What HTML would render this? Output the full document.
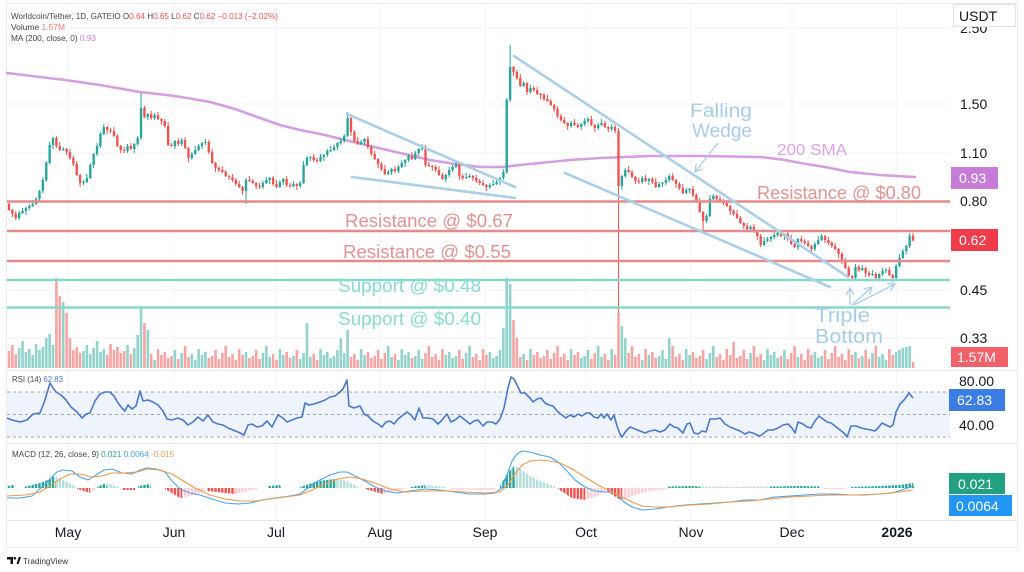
<!DOCTYPE html>
<html><head><meta charset="utf-8"><title>WLD/USDT</title>
<style>
html,body{margin:0;padding:0;background:#fff;width:1024px;height:572px;overflow:hidden}
svg{display:block}
text{font-family:"Liberation Sans","DejaVu Sans",sans-serif}
</style></head><body>
<svg width="1024" height="572" viewBox="0 0 1024 572" xmlns="http://www.w3.org/2000/svg">
<defs>
<marker id="ah" markerWidth="10" markerHeight="10" refX="8" refY="5" orient="auto" markerUnits="userSpaceOnUse">
<path d="M1,1 L8,5 L1,9" fill="none" stroke="#a9cde6" stroke-width="1.3"/>
</marker>
<pattern id="pG" patternUnits="userSpaceOnUse" x="7.8" y="0" width="3.386" height="600"><rect width="2.4" height="600" fill="#26a69a"/></pattern>
<pattern id="pLG" patternUnits="userSpaceOnUse" x="7.8" y="0" width="3.386" height="600"><rect width="2.4" height="600" fill="#b2dfdb"/></pattern>
<pattern id="pR" patternUnits="userSpaceOnUse" x="7.8" y="0" width="3.386" height="600"><rect width="2.4" height="600" fill="#ef5350"/></pattern>
<pattern id="pLR" patternUnits="userSpaceOnUse" x="7.8" y="0" width="3.386" height="600"><rect width="2.4" height="600" fill="#ffcdd2"/></pattern>
</defs>
<rect width="1024" height="572" fill="#fff"/>
<rect x="6.5" y="3.5" width="1011" height="544" fill="none" stroke="#ebebeb"/>
<g stroke="#f1f3f7" stroke-width="1">
<line x1="68" y1="4" x2="68" y2="520"/><line x1="174" y1="4" x2="174" y2="520"/><line x1="276" y1="4" x2="276" y2="520"/><line x1="380" y1="4" x2="380" y2="520"/><line x1="485" y1="4" x2="485" y2="520"/><line x1="586" y1="4" x2="586" y2="520"/><line x1="691" y1="4" x2="691" y2="520"/><line x1="792" y1="4" x2="792" y2="520"/><line x1="897" y1="4" x2="897" y2="520"/>
<line x1="7" y1="28" x2="950" y2="28"/><line x1="7" y1="104" x2="950" y2="104"/><line x1="7" y1="153" x2="950" y2="153"/><line x1="7" y1="290" x2="950" y2="290"/><line x1="7" y1="338" x2="950" y2="338"/>
</g>
<g stroke="#e6e6e6" stroke-width="1">
<line x1="7" y1="370.5" x2="1017" y2="370.5"/><line x1="7" y1="443.5" x2="1017" y2="443.5"/><line x1="7" y1="520.5" x2="1017" y2="520.5"/>
</g>
<rect x="7" y="392" width="943" height="45" fill="#eff4fc"/>
<g stroke="#9ea3ad" stroke-width="1" stroke-dasharray="3,3">
<line x1="7" y1="392" x2="950" y2="392"/><line x1="7" y1="414.5" x2="950" y2="414.5"/><line x1="7" y1="437" x2="950" y2="437"/>
</g>

<!-- volume + candles (x = candle index) -->
<g transform="translate(9,0) scale(3.386,1)" fill="none">
<path stroke="#f5a6a4" stroke-width="0.77" d="M0,368V351M1,368V345M2,368V354M14,368V278M15,368V296M17,368V313M18,368V338M19,368V350M20,368V347M21,368V353M29,368V355M30,368V344M31,368V350M32,368V347M33,368V353M34,368V351M36,368V354M40,368V323M42,368V354M44,368V349M45,368V355M46,368V352M47,368V358M48,368V356M50,368V359M52,368V346M53,368V357M59,368V358M60,368V356M61,368V350M62,368V359M63,368V353M64,368V346M65,368V357M66,368V354M67,368V360M68,368V349M69,368V355M71,368V358M72,368V356M73,368V350M74,368V359M78,368V354M79,368V360M82,368V352M83,368V358M85,368V350M90,368V354M91,368V360M101,368V357M102,368V354M103,368V360M106,368V352M107,368V358M108,368V356M109,368V350M110,368V359M111,368V353M114,368V354M119,368V358M123,368V353M124,368V346M125,368V357M126,368V354M127,368V360M128,368V349M133,368V350M134,368V359M137,368V357M138,368V354M139,368V360M140,368V349M141,368V355M149,368V320M150,368V338M151,368V357M153,368V360M155,368V355M156,368V352M157,368V358M158,368V356M159,368V350M160,368V359M161,368V353M162,368V346M163,368V357M164,368V354M165,368V360M167,368V355M168,368V352M172,368V359M173,368V353M176,368V354M177,368V360M179,368V355M180,368V313M183,368V353M184,368V346M185,368V357M186,368V354M188,368V349M190,368V352M191,368V358M196,368V346M197,368V357M198,368V354M199,368V360M202,368V352M203,368V358M204,368V356M205,368V350M209,368V357M210,368V354M211,368V360M212,368V349M213,368V355M214,368V342M215,368V358M216,368V356M217,368V350M218,368V359M220,368V346M221,368V357M222,368V354M228,368V356M230,368V359M231,368V353M232,368V346M234,368V354M235,368V360M236,368V349M237,368V355M241,368V350M242,368V359M243,368V353M244,368V346M245,368V357M246,368V354M247,368V360M248,368V349M249,368V355M251,368V358M253,368V350M254,368V359M256,368V346M260,368V349M261,368V355M267,368V362"/>
<path stroke="#92d3cb" stroke-width="0.77" d="M3,368V348M4,368V341M5,368V352M6,368V349M7,368V355M8,368V344M9,368V350M10,368V347M11,368V338M12,368V334M13,368V345M16,368V302M22,368V351M23,368V345M24,368V354M25,368V348M26,368V341M27,368V352M28,368V349M35,368V345M37,368V348M38,368V335M39,368V306M41,368V330M43,368V360M49,368V350M51,368V353M54,368V354M55,368V360M56,368V349M57,368V355M58,368V352M70,368V352M75,368V353M76,368V346M77,368V357M80,368V349M81,368V355M84,368V356M86,368V359M87,368V353M88,368V323M89,368V357M92,368V349M93,368V355M94,368V352M95,368V358M96,368V356M97,368V350M98,368V338M99,368V353M100,368V330M104,368V349M105,368V355M112,368V346M113,368V357M115,368V360M116,368V349M117,368V355M118,368V352M120,368V356M121,368V350M122,368V359M129,368V355M130,368V352M131,368V358M132,368V356M135,368V353M136,368V346M142,368V352M143,368V358M144,368V356M145,368V350M146,368V328M147,368V278M148,368V284M152,368V354M154,368V349M166,368V349M169,368V358M170,368V356M171,368V350M174,368V346M175,368V357M178,368V349M181,368V326M182,368V338M187,368V360M189,368V355M192,368V356M193,368V350M194,368V359M195,368V338M200,368V349M201,368V355M206,368V359M207,368V353M208,368V346M219,368V353M223,368V360M224,368V349M225,368V355M226,368V352M227,368V358M229,368V350M233,368V357M238,368V352M239,368V358M240,368V356M250,368V352M252,368V356M255,368V353M257,368V357M258,368V354M259,368V360M262,368V352M263,368V350M264,368V348M265,368V347M266,368V346"/>
</g>

<!-- MACD histogram -->
<g>
<polygon fill="url(#pG)" points="7,488 7,486 14,485 14,488"/>
<polygon fill="url(#pG)" points="24,488 24,487 40,483 50,479 55,476 56,488"/>
<polygon fill="url(#pLG)" points="56,488 56,476 65,481 76,487 77,488"/>
<polygon fill="url(#pR)" points="77,488 77,489 90,493 90,488"/>
<polygon fill="url(#pLR)" points="90,488 90,493 96,489 96,488"/>
<polygon fill="url(#pG)" points="97,488 97,487 106,483 107,488"/>
<polygon fill="url(#pLG)" points="107,488 107,483 118,487 119,488"/>
<polygon fill="url(#pR)" points="122,488 122,490 135,490 135,488"/>
<polygon fill="url(#pG)" points="138,488 138,486 150,484 151,488"/>
<polygon fill="url(#pR)" points="165,488 165,489 180,498 182,498 182,488"/>
<polygon fill="url(#pLR)" points="182,488 182,498 195,495 205,491 205,488"/>
<polygon fill="url(#pR)" points="207,488 207,491 235,494 235,488"/>
<polygon fill="url(#pLR)" points="235,488 235,494 258,489 258,488"/>
<polygon fill="url(#pG)" points="268,488 268,486 280,485 281,488"/>
<polygon fill="url(#pG)" points="300,488 300,487 318,481 335,479 336,488"/>
<polygon fill="url(#pLG)" points="336,488 336,479 347,481 358,487 359,488"/>
<polygon fill="url(#pR)" points="365,488 365,489 383,494 383,488"/>
<polygon fill="url(#pLR)" points="383,488 383,494 405,489 405,488"/>
<polygon fill="url(#pG)" points="410,488 410,487 425,485 426,488"/>
<polygon fill="url(#pLG)" points="426,488 426,485 445,487 446,488"/>
<polygon fill="url(#pLR)" points="450,488 450,489.5 495,490 495,488"/>
<polygon fill="url(#pG)" points="500,488 500,486 507,474 514,466 516,488"/>
<polygon fill="url(#pLG)" points="516,488 516,466 522,470 530,476 540,481 556,487 557,488"/>
<polygon fill="url(#pR)" points="558,488 558,489 572,498 585,500 585,488"/>
<polygon fill="url(#pLR)" points="585,488 585,500 596,497 605,491 606,488"/>
<polygon fill="url(#pR)" points="607,488 607,491 620,500 622,500 622,488"/>
<polygon fill="url(#pLR)" points="622,488 622,500 632,496 645,492 668,489 668,488"/>
<polygon fill="url(#pG)" points="668,488 668,486.5 690,486 700,486.5 700,488"/>
<polygon fill="url(#pLG)" points="700,488 700,486.5 730,487 760,486.5 770,487 770,488"/>
<polygon fill="url(#pG)" points="770,488 770,486.5 800,486 820,486.5 821,488"/>
<polygon fill="url(#pLR)" points="822,488 822,489 845,489 846,488"/>
<polygon fill="url(#pG)" points="850,488 850,487 880,486 900,485 913,483 914,488"/>
</g>

<!-- SMA 200 -->
<polyline fill="none" stroke="#d69ee2" stroke-width="2.6" stroke-linejoin="round" stroke-linecap="round" points="7,73 40,77 65,80 100,85 140,92 175,96 210,102 235,109 260,118 280,125 300,130 325,135 345,140 370,146 400,153 430,160 455,164 480,167 503,167 520,165 540,163 570,160 600,158 650,156 700,156 760,157 785,160 800,163 825,167 850,172 880,175 915,177"/>

<!-- candles -->
<g transform="translate(9,0) scale(3.386,1)" fill="none">
<path stroke="#ef5350" stroke-width="0.3" d="M0,202V211M1,209V217M2,211V220M14,136V148M15,142V151M17,148V155M18,149V160M19,156V166M20,161V176M21,174V187M29,126V134M30,128V133M31,127V137M32,134V147M33,145V153M34,147V153M36,143V150M40,106V118M42,111V120M44,112V120M45,118V125M46,119V128M47,122V146M48,143V147M50,138V146M52,137V149M53,147V162M59,140V154M60,149V164M61,162V172M62,166V172M63,166V173M64,170V177M65,175V180M66,174V182M67,178V186M68,181V188M69,186V195M71,176V182M72,179V184M73,182V189M74,183V189M78,176V186M79,180V188M82,176V187M83,183V188M85,183V190M90,154V162M91,158V163M101,117V136M102,130V143M103,137V145M106,136V149M107,145V156M108,151V160M109,158V168M110,162V171M111,165V175M114,166V173M119,152V160M123,145V167M124,162V167M125,165V171M126,165V172M127,166V176M128,173V180M133,163V180M134,174V180M137,175V181M138,175V183M139,179V185M140,180V186M141,184V191M149,66V76M150,70V80M151,74V87M153,82V95M155,86V92M156,87V95M157,93V99M158,93V101M159,95V102M160,99V106M161,104V112M162,106V118M163,114V122M164,117V124M165,122V130M167,119V126M168,123V128M172,116V126M173,124V132M176,121V128M177,126V132M179,125V133M180,128V313M183,166V173M184,170V178M185,176V184M186,178V184M188,175V182M190,177V184M191,178V188M196,173V181M197,179V188M198,182V190M199,184V194M202,186V197M203,193V203M204,198V213M205,211V233M209,195V202M210,196V203M211,199V205M212,200V207M213,205V215M214,209V216M215,210V219M216,216V224M217,222V229M218,223V231M220,224V233M221,231V240M222,234V247M228,230V237M230,232V241M231,235V245M232,242V248M234,236V243M235,239V245M236,240V247M237,245V253M241,235V243M242,237V245M243,241V248M244,243V250M245,248V258M246,252V264M247,258V269M248,266V277M249,275V281M251,265V272M253,267V277M254,271V277M256,272V279M260,267V276M261,274V282M267,233V241.5"/>
<path stroke="#26a69a" stroke-width="0.3" d="M3,211V220M4,208V214M5,207V215M6,204V210M7,200V207M8,197V205M9,190V202M10,177V193M11,161V182M12,142V164M13,137V149M16,147V151M22,180V185M23,174V183M24,163V179M25,153V168M26,143V156M27,132V148M28,124V135M35,144V153M37,143V153M38,136V146M39,93V140M41,113V120M43,113V120M49,140V149M51,138V146M54,152V160M55,146V155M56,144V151M57,142V149M58,139V145M70,178V204M75,181V189M76,177V184M77,177V184M80,180V188M81,178V185M84,181V187M86,181V188M87,161V184M88,156V166M89,156V161M92,154V162M93,154V161M94,149V157M95,146V152M96,145V151M97,142V150M98,138V145M99,134V143M100,112V137M104,140V145M105,138V145M112,170V175M113,168V175M115,165V173M116,160V168M117,159V167M118,154V162M120,151V160M121,148V156M122,144V151M129,174V182M130,167V177M131,165V172M132,161V168M135,173V179M136,174V178M142,183V189M143,180V186M144,180V185M145,177V185M146,169V180M147,98V174M148,45V102M152,81V87M154,85V94M166,121V128M169,123V130M170,118V126M171,117V123M174,123V130M175,119V126M178,124V131M181,175V190M182,168V178M187,176V184M189,178V185M192,182V188M193,182V187M194,177V185M195,174V182M200,188V194M201,188V193M206,214V223M207,195V217M208,194V200M219,225V231M223,237V246M224,237V242M225,236V242M226,232V239M227,231V237M229,233V240M233,238V250M238,242V251M239,236V245M240,234V241M250,264V280M252,265V271M255,270V276M257,273V281M258,268V276M259,268V273M262,264V280M263,254V267M264,249V259M265,245V254M266,233V248"/>
<path stroke="#ef5350" stroke-width="0.7" d="M0,204V210M1,210V214M2,214V218M14,138V146M15,146V150M17,149V152M18,152V158M19,158V164M20,164V175M21,175V183M29,127V130M30,130V131M31,131V136M32,136V146M33,146V150M34,150V151M36,146V149M40,108V117M42,114V118M44,115V119M45,119V121M46,121V126M47,126V145M48,145V146M50,141V144M52,140V148M53,148V158M59,142V152M60,152V163M61,163V168M62,168V170M63,170V172M64,172V176M65,176V177M66,177V180M67,180V184M68,184V187M69,187V191M71,180V181M72,181V183M73,183V186M74,186V187M78,178V184M79,184V187M82,179V185M83,185V186M85,184V186M90,157V160M91,160V161M101,118V132M102,132V141M103,141V144M106,139V147M107,147V154M108,154V159M109,159V164M110,164V169M111,169V174M114,169V171M119,156V159M123,147V165M124,165V166M125,166V167M126,167V170M127,170V175M128,175V179M133,164V176M134,176V178M137,176V178M138,178V181M139,181V183M140,183V185M141,185V187M149,67V72M150,72V78M151,78V86M153,83V92M155,88V90M156,90V94M157,94V95M158,95V99M159,99V101M160,101V105M161,105V109M162,109V116M163,116V120M164,120V123M165,123V126M167,123V125M168,125V127M172,119V125M173,125V128M176,123V127M177,127V129M179,127V131M180,131V186M183,170V172M184,172V177M185,177V181M186,181V182M188,178V181M190,179V182M191,182V187M196,176V180M197,180V184M198,184V188M199,188V193M202,189V195M203,195V201M204,201V212M205,212V221M209,196V199M210,199V201M211,201V203M212,203V206M213,206V211M214,211V214M215,214V218M216,218V223M217,223V226M218,226V229M220,227V232M221,232V236M222,236V245M228,233V236M230,234V239M231,239V244M232,244V247M234,239V241M235,241V243M236,243V246M237,246V249M241,236V240M242,240V243M243,243V246M244,246V249M245,249V254M246,254V262M247,262V268M248,268V276M249,276V278M251,267V270M253,268V273M254,273V275M256,274V278M260,270V275M261,275V278M267,235.6V240.5"/>
<path stroke="#26a69a" stroke-width="0.7" d="M3,213V218M4,211V213M5,208V211M6,206V208M7,204V206M8,199V204M9,191V199M10,180V191M11,163V180M12,145V163M13,138V145M16,149V150M22,182V183M23,178V182M24,165V178M25,154V165M26,146V154M27,134V146M28,127V134M35,146V151M37,144V149M38,138V144M39,108V138M41,114V117M43,115V118M49,141V146M51,140V144M54,154V158M55,150V154M56,146V150M57,143V146M58,142V143M70,180V191M75,183V187M76,180V183M77,178V180M80,182V187M81,179V182M84,184V186M86,183V186M87,165V183M88,158V165M89,157V158M92,157V161M93,155V157M94,151V155M95,150V151M96,147V150M97,143V147M98,141V143M99,136V141M100,118V136M104,142V144M105,139V142M112,172V174M113,169V172M115,167V171M116,163V167M117,160V163M118,156V160M120,153V159M121,149V153M122,147V149M129,175V179M130,170V175M131,167V170M132,164V167M135,177V178M136,176V177M142,185V187M143,184V185M144,182V184M145,178V182M146,172V178M147,100V172M148,67V100M152,83V86M154,88V92M166,123V126M169,124V127M170,121V124M171,119V121M174,125V128M175,123V125M178,127V129M181,176V186M182,170V176M187,178V182M189,179V181M192,184V187M193,183V184M194,180V183M195,176V180M200,190V193M201,189V190M206,216V221M207,199V216M208,196V199M219,227V229M223,241V245M224,239V241M225,237V239M226,235V237M227,233V235M229,234V236M233,239V247M238,244V249M239,240V244M240,236V240M250,267V278M252,268V270M255,274V275M257,274V278M258,271V274M259,270V271M262,266V278M263,258V266M264,251V258M265,246V251M266,236V246"/>
</g>

<!-- horizontal levels -->
<g stroke-width="2.6">
<line x1="7" y1="201.5" x2="950" y2="201.5" stroke="#e58a8a"/>
<line x1="7" y1="231" x2="950" y2="231" stroke="#e58a8a"/>
<line x1="7" y1="261" x2="950" y2="261" stroke="#e58a8a"/>
<line x1="7" y1="280" x2="950" y2="280" stroke="#86d9c9"/>
<line x1="7" y1="307.5" x2="950" y2="307.5" stroke="#86d9c9"/>
</g>

<!-- wedges -->
<g stroke="#abcfe7" stroke-width="2.6" stroke-linecap="round">
<line x1="347" y1="114" x2="515" y2="187"/>
<line x1="352" y1="177" x2="515" y2="198"/>
<line x1="514" y1="56" x2="848" y2="277"/>
<line x1="565" y1="173" x2="830" y2="287"/>
</g>
<g stroke="#a9cde6" stroke-width="1.3" fill="none">
<line x1="718" y1="143" x2="695" y2="172" marker-end="url(#ah)"/>
<line x1="850" y1="305" x2="850" y2="288" marker-end="url(#ah)"/>
<line x1="852" y1="305" x2="872" y2="287" marker-end="url(#ah)"/>
<line x1="854" y1="305" x2="895" y2="284" marker-end="url(#ah)"/>
</g>

<!-- annotations -->
<g font-size="19">
<text x="690" y="117" fill="#a9cde8" textLength="62" lengthAdjust="spacingAndGlyphs">Falling</text>
<text x="692" y="137" fill="#a9cde8" textLength="60" lengthAdjust="spacingAndGlyphs">Wedge</text>
<text x="777" y="155" fill="#dba3e5" font-size="16" textLength="70" lengthAdjust="spacingAndGlyphs">200 SMA</text>
<text x="757" y="199" fill="#e39292" font-size="18" textLength="164" lengthAdjust="spacingAndGlyphs">Resistance @ $0.80</text>
<text x="345" y="227" fill="#e39292" font-size="18" textLength="168" lengthAdjust="spacingAndGlyphs">Resistance @ $0.67</text>
<text x="343" y="258" fill="#e39292" font-size="18" textLength="168" lengthAdjust="spacingAndGlyphs">Resistance @ $0.55</text>
<text x="338" y="292" fill="#88dccb" font-size="18" textLength="143" lengthAdjust="spacingAndGlyphs">Support @ $0.48</text>
<text x="338" y="325" fill="#88dccb" font-size="18" textLength="143" lengthAdjust="spacingAndGlyphs">Support @ $0.40</text>
<text x="815" y="322" fill="#a9cde8" font-size="20" textLength="55" lengthAdjust="spacingAndGlyphs">Triple</text>
<text x="815" y="343" fill="#a9cde8" font-size="20" textLength="68" lengthAdjust="spacingAndGlyphs">Bottom</text>
</g>

<!-- RSI line -->
<polyline fill="none" stroke="#4a78d0" stroke-width="1.6" stroke-linejoin="round" points="7,418 12,420 20,422 27,420 33,414 40,413 45,400 50,383 53,388 56,392 61,395 66,400 71,407 77,412 82,418 86,414 90,413 95,401 100,394 105,392 110,392 114,396 118,403 122,408 125,411 128,405 132,409 136,406 140,391 143,401 148,400 153,402 158,405 163,411 167,419 172,420 178,418 183,420 188,425 193,422 198,417 203,421 208,415 213,422 218,424 223,425 228,428 233,430 238,432 244,435 248,425 252,424 257,427 262,426 267,421 272,427 278,415 283,418 287,422 292,420 297,418 302,417 305,403 309,405 314,404 320,402 325,400 330,397 335,396 340,392 343,389 347,380 349,406 354,408 360,406 364,414 368,416 373,421 378,424 382,427 386,422 390,421 394,424 398,419 403,415 407,412 411,415 415,420 419,408 423,418 428,418 433,419 438,424 442,420 447,414 451,422 455,420 460,416 465,420 470,424 474,421 478,420 483,426 487,422 492,422 496,424 500,419 504,408 508,388 511,377 514,379 518,387 521,393 525,393 530,398 533,402 537,399 541,398 545,403 549,405 553,406 558,412 562,415 566,418 570,415 574,417 578,414 582,416 586,413 590,413 594,417 598,418 601,414 604,418 607,414 611,420 614,415 617,426 620,434 622,437 626,431 630,427 635,429 640,431 645,433 650,431 655,430 660,432 665,430 670,424 674,427 678,428 683,433 687,424 690,423 694,433 698,434 702,431 706,432 710,419 716,419 720,418 725,424 730,427 735,429 740,431 745,434 749,432 753,433 757,435 760,436 764,433 768,430 773,430 778,428 783,425 788,424 792,428 795,433 798,422 803,424 807,427 811,428 815,421 819,416 823,419 827,422 831,423 835,426 840,430 844,433 847,437 851,426 856,426 861,428 866,429 871,430 875,431 878,428 882,423 886,425 890,427 893,425 896,412 900,404 904,400 907,396 909,393 913,398"/>

<!-- MACD lines -->
<polyline fill="none" stroke="#4aa3e8" stroke-width="1.1" stroke-linejoin="round" points="7,498 20,498 32,496 42,487 50,479 57,472 63,470 72,471 80,477 88,480 96,475 104,470 112,469 122,473 132,474 140,470 147,468 156,469 165,472 172,481 180,489 190,493 200,495 212,499 225,503 238,504 250,503 262,500 275,498 290,496 300,494 308,488 318,481 330,475 340,472 347,472 355,476 365,481 375,487 385,491 397,493 410,491 425,489 440,490 455,492 470,494 485,494 495,493 502,488 507,475 512,461 517,454 522,451 530,452 540,455 550,457 558,462 566,470 575,480 585,487 595,491 605,492 613,492 618,496 624,502 632,507 642,510 655,509 668,507 685,505 700,504 715,503 730,502 745,500 760,500 775,497 790,496 805,495 820,494 835,494 850,495 865,495 880,494 892,493 902,490 913,486"/>
<polyline fill="none" stroke="#f09a4e" stroke-width="1.1" stroke-linejoin="round" points="7,496 25,495 40,492 50,486 60,479 70,474 80,474 92,477 102,476 112,473 125,473 137,472 148,469 160,470 172,474 182,480 195,488 210,495 225,499 240,501 255,501 270,499 285,497 300,495 312,490 325,484 338,479 350,477 362,479 375,483 390,489 405,492 425,491 445,491 465,492 485,493 500,492 508,485 515,474 522,465 530,461 540,460 550,461 560,463 572,469 585,477 598,485 610,491 622,497 632,502 642,506 655,507 670,507 690,505 710,504 730,502 750,501 770,499 790,497 810,496 830,495 855,495 880,494 900,492 913,490"/>

<!-- header -->
<text x="11" y="19" font-size="8" fill="#444" textLength="267" lengthAdjust="spacingAndGlyphs">Worldcoin/Tether, 1D, GATEIO  O<tspan fill="#ef5350">0.64</tspan>  H<tspan fill="#ef5350">0.65</tspan>  L<tspan fill="#ef5350">0.62</tspan>  C<tspan fill="#ef5350">0.62</tspan>  <tspan fill="#ef5350">−0.013 (−2.02%)</tspan></text>
<text x="11" y="30" font-size="8" fill="#444" textLength="54" lengthAdjust="spacingAndGlyphs">Volume  <tspan fill="#ef7a7a">1.57M</tspan></text>
<text x="11" y="41" font-size="8" fill="#444" textLength="85" lengthAdjust="spacingAndGlyphs">MA (200, close, 0)  <tspan fill="#c77dd8">0.93</tspan></text>
<text x="12" y="382" font-size="8" fill="#444" textLength="51" lengthAdjust="spacingAndGlyphs">RSI (14)  <tspan fill="#4a78d0">62.83</tspan></text>
<text x="12" y="457" font-size="8" fill="#444" textLength="162" lengthAdjust="spacingAndGlyphs">MACD (12, 26, close, 9)  <tspan fill="#26a69a">0.021</tspan>  <tspan fill="#4aa3e8">0.0064</tspan>  <tspan fill="#f09a4e">-0.015</tspan></text>

<!-- right axis -->
<g font-size="14" fill="#131722">
<text x="960" y="33">2.50</text>
<text x="960" y="109">1.50</text>
<text x="960" y="158">1.10</text>
<text x="960" y="206">0.80</text>
<text x="960" y="295">0.45</text>
<text x="960" y="343">0.33</text>
<text x="959" y="386">80.00</text>
<text x="959" y="430">40.00</text>
</g>
<rect x="953.5" y="4.5" width="62" height="22" fill="#fff" stroke="#e0e0e0"/>
<text x="959" y="21" font-size="14" fill="#131722">USDT</text>
<rect x="951" y="167" width="47" height="22" fill="#c77dd8"/>
<text x="959" y="183" font-size="14" fill="#fff">0.93</text>
<rect x="951" y="229" width="47" height="22" fill="#f03c4a"/>
<text x="959" y="245" font-size="14" fill="#fff">0.62</text>
<rect x="951" y="347" width="57" height="20" fill="#f2606a"/>
<text x="957" y="362" font-size="14" fill="#fff">1.57M</text>
<rect x="949" y="389" width="56" height="22" fill="#3b7de3"/>
<text x="957" y="405" font-size="14" fill="#fff">62.83</text>
<rect x="949" y="473" width="56" height="21" fill="#22a07f"/>
<text x="958" y="489" font-size="14" fill="#fff">0.021</text>
<rect x="949" y="495" width="63" height="21" fill="#2196f3"/>
<text x="956" y="511" font-size="14" fill="#fff">0.0064</text>

<!-- time axis -->
<g font-size="14" fill="#131722" text-anchor="middle">
<text x="68" y="537">May</text><text x="174" y="537">Jun</text><text x="276" y="537">Jul</text><text x="380" y="537">Aug</text><text x="485" y="537">Sep</text><text x="586" y="537">Oct</text><text x="691" y="537">Nov</text><text x="792" y="537">Dec</text><text x="897" y="537" font-weight="bold">2026</text>
</g>

<!-- TradingView logo -->
<g fill="#131722">
<path d="M7,557 h6 v7 h-2.5 v-4.5 h-3.5 z"/>
<circle cx="14.8" cy="558.3" r="1.3"/>
<path d="M16.5,564 l2.2,-7 h2.3 l-2.4,7 z"/>
</g>
<text x="23" y="564" font-size="8" fill="#333" textLength="45" lengthAdjust="spacingAndGlyphs">TradingView</text>
</svg>
</body></html>
